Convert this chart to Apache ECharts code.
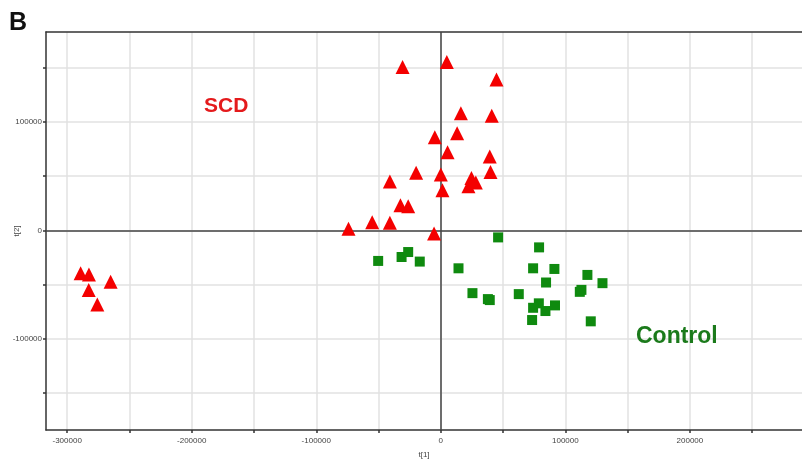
<!DOCTYPE html>
<html>
<head>
    <meta charset="utf-8">
    <title>PCA score plot B</title>
    <script src="https://cdn.jsdelivr.net/npm/echarts@6.0.0/dist/echarts.min.js"></script>
    <style>
        body { margin: 0; background: #fff; }
        #main { width: 802px; height: 460px; }
    </style>
</head>
<body>
<div id="main"></div>
<script>
// SCD group scores [t1, t2]
const scdPoints = [
  [-30700, 150700], [4800, 155300], [44700, 139200], [16100, 108000],
  [40900, 105800], [-4800, 86000], [13100, 89600], [5400, 72200],
  [39300, 68200], [39900, 53800], [-19800, 53200], [-40900, 45200],
  [0, 51700], [1300, 37000], [24600, 48300], [28100, 44300],
  [22200, 40700], [-32400, 23300], [-26200, 22300], [-74100, 1500],
  [-55100, 7600], [-40900, 7000], [-5400, -2800],
  [-289200, -39400], [-282500, -40700], [-282700, -54800],
  [-275800, -68200], [-265100, -47400]
];

// Control group scores [t1, t2]
const controlPoints = [
  [46000, -6400], [78900, -15600], [74100, -34900], [91200, -35500],
  [84500, -48000], [117700, -41000], [129800, -48600], [39300, -64200],
  [37800, -63300], [62600, -58700], [78700, -67200], [74100, -71300],
  [84000, -74300], [91700, -69100], [111600, -56600], [112900, -54800],
  [73300, -82600], [120400, -83800], [-50300, -28100], [-31500, -24500],
  [-26200, -19900], [-16900, -28700], [14200, -34900], [25400, -57800]
];

const xTicks = [-300000, -250000, -200000, -150000, -100000, -50000, 0, 50000, 100000, 150000, 200000, 250000];
const xLabels = [-300000, -200000, -100000, 0, 100000, 200000];
const yTicks = [-150000, -100000, -50000, 0, 50000, 100000, 150000];
const yLabels = [-100000, 0, 100000];

const xRange = [-317000, 290000];
const yRange = [-184000, 183000];

const axisColor = '#333';
const gridColor = '#e2e2e2';
const labelStyle = { fontSize: 8, color: '#444', fontFamily: 'Liberation Sans, Arial' };
const plainNumber = v => String(v);

const option = {
    animation: false,
    grid: { left: 46, top: 32, right: 0, bottom: 30, outerBoundsMode: 'none', containLabel: false },
    graphic: [
        { type: 'text', z: 100, left: 9, top: 11, style: { text: 'B', font: 'bold 25px "Liberation Sans", Arial', fill: '#111' } },
        { type: 'text', z: 100, left: 204, top: 96, style: { text: 'SCD', font: 'bold 21px "Liberation Sans", Arial', fill: '#e41a1c' } },
        { type: 'text', z: 100, left: 636, top: 325, style: { text: 'Control', font: 'bold 23px "Liberation Sans", Arial', fill: '#1b7a1b' } }
    ],
    xAxis: [{
        type: 'value',
        position: 'bottom',
        min: xRange[0],
        max: xRange[1],
        name: 't[1]',
        nameLocation: 'middle',
        nameGap: 21,
        nameMoveOverlap: false,
        nameTextStyle: labelStyle,
        axisLine: { onZero: false, lineStyle: { color: axisColor, width: 1.5 } },
        axisTick: { customValues: xTicks, length: 3, lineStyle: { color: axisColor, width: 1.5 } },
        axisLabel: { customValues: xLabels, margin: 7, formatter: plainNumber, ...labelStyle },
        splitLine: { show: true, customValues: xTicks, lineStyle: { color: gridColor, width: 1.5 } }
    }, {
        type: 'value',
        position: 'top',
        min: xRange[0],
        max: xRange[1],
        axisLine: { onZero: false, lineStyle: { color: axisColor, width: 1.5 } },
        axisTick: { show: false },
        axisLabel: { show: false },
        splitLine: { show: false }
    }],
    yAxis: {
        type: 'value',
        min: yRange[0],
        max: yRange[1],
        name: 't[2]',
        nameLocation: 'middle',
        nameGap: 25,
        nameMoveOverlap: false,
        nameTextStyle: labelStyle,
        axisLine: { onZero: false, lineStyle: { color: axisColor, width: 1.5 } },
        axisTick: { customValues: yTicks, length: 3, lineStyle: { color: axisColor, width: 1.5 } },
        axisLabel: { customValues: yLabels, margin: 4, formatter: plainNumber, ...labelStyle },
        splitLine: { show: true, customValues: yTicks, lineStyle: { color: gridColor, width: 1.5 } }
    },
    series: [{
        name: 'SCD',
        type: 'scatter',
        symbol: 'triangle',
        symbolSize: 14,
        itemStyle: { color: '#f40000', opacity: 1 },
        data: scdPoints,
        z: 3,
        markLine: {
            silent: true,
            symbol: 'none',
            label: { show: false },
            lineStyle: { color: '#444', width: 1.5, type: 'solid' },
            data: [{ xAxis: 0 }, { yAxis: 0 }],
            z: 1
        }
    }, {
        name: 'Control',
        type: 'scatter',
        symbol: 'rect',
        symbolSize: 10,
        itemStyle: { color: '#0f8a0f', opacity: 1 },
        data: controlPoints,
        z: 3
    }]
};

const chart = echarts.init(document.getElementById('main'));
chart.setOption(option);
</script>
</body>
</html>
